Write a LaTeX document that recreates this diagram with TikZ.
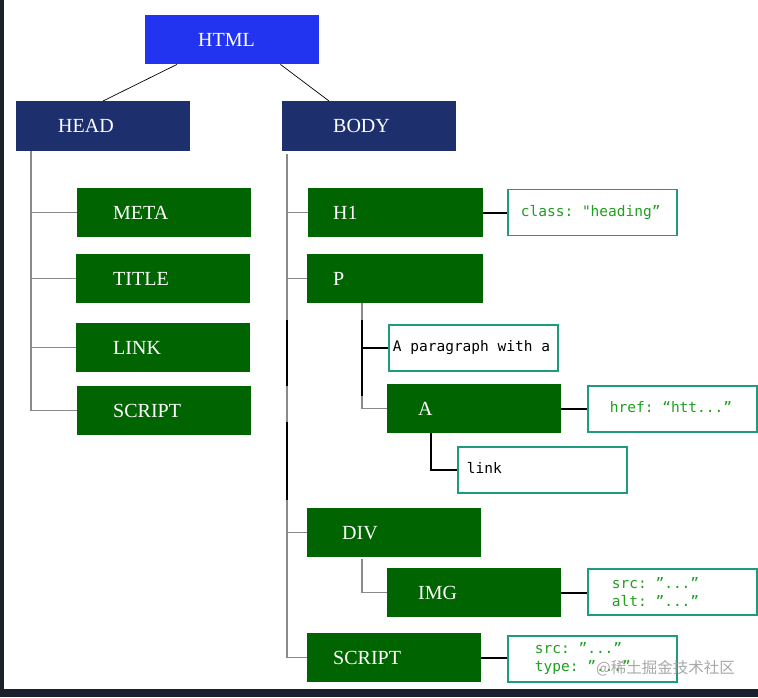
\documentclass[tikz,border=0pt]{standalone}
\usepackage{fontspec}
\setmainfont{Liberation Serif}
\setmonofont{DejaVu Sans Mono}
\newfontfamily\cjkfont{Noto Sans CJK SC}
\usetikzlibrary{calc}
\newcommand\fullsp{\spaceskip=0pt\relax\xspaceskip=0pt\relax}
\definecolor{htmlblue}{HTML}{2234F0}
\definecolor{navyc}{HTML}{1E2F6E}
\definecolor{dgreen}{HTML}{006400}
\definecolor{tealc}{HTML}{1D9B7C}
\definecolor{attrgreen}{HTML}{1FA01F}
\definecolor{lgray}{HTML}{8A8A8A}
\definecolor{framec}{HTML}{1C202C}
\tikzset{
  tagbox/.style={anchor=north west, inner xsep=0pt, inner ysep=0pt, align=left,
    font=\fontsize{20}{20}\selectfont, text=white, minimum height=49pt,
    text height=13pt, text depth=0pt},
  gbox/.style={tagbox, fill=dgreen},
  attrbox/.style={anchor=north west, inner xsep=0pt, inner ysep=0pt, align=left,
    font=\ttfamily\fontsize{14.5}{18}\selectfont, text=attrgreen, draw=tealc,
    line width=1.8pt, fill=white, minimum height=46pt, text width=169pt},
  onel/.style={text height=7.9pt, text depth=0pt},
  gline/.style={draw=lgray, line width=1.4pt},
  bline/.style={draw=black, line width=1.8pt},
  tline/.style={draw=black, line width=0.7pt},
}
\begin{document}
\begin{tikzpicture}[x=1pt,y=-1pt]
\useasboundingbox (0,0) rectangle (758,697);
\fill[white] (0,0) rectangle (758,697);
\fill[framec] (0,0) rectangle (4,697);
\fill[framec] (0,689) rectangle (758,697);

% top levels
\node[tagbox, fill=htmlblue, text width=174pt] (html) at (145,15) {\hspace*{53pt}HTML};
\node[tagbox, fill=navyc, text width=174pt, minimum height=50pt] (head) at (16,101) {\hspace*{42pt}HEAD};
\node[tagbox, fill=navyc, text width=174pt, minimum height=50pt] (body) at (282,101) {\hspace*{51pt}BODY};
\draw[tline] ([xshift=32pt]html.south west) -- ([xshift=87pt]head.north west);
\draw[tline] ([xshift=-39pt]html.south east) -- ([xshift=47pt]body.north west);

% head children
\node[gbox, text width=174pt] (meta) at (77,188) {\hspace*{36pt}META};
\node[gbox, text width=174pt] (title) at (76,254) {\hspace*{37pt}TITLE};
\node[gbox, text width=174pt] (hlink) at (76,323) {\hspace*{37pt}LINK};
\node[gbox, text width=174pt] (hscript) at (77,386) {\hspace*{36pt}SCRIPT};
\coordinate (hv) at ([xshift=15pt]head.south west);
\draw[gline] (hv) |- (hscript.west);
\draw[gline] (meta.west) -- (meta.west -| hv);
\draw[gline] (title.west) -- (title.west -| hv);
\draw[gline] (hlink.west) -- (hlink.west -| hv);

% body children
\node[gbox, text width=175pt] (h1) at (308,188) {\hspace*{25pt}H1};
\node[gbox, text width=176pt] (p) at (307,254) {\hspace*{26pt}P};
\node[gbox, text width=174pt] (a) at (387,384) {\hspace*{31pt}A};
\node[gbox, text width=174pt] (div) at (307,508) {\hspace*{35pt}DIV};
\node[gbox, text width=174pt] (img) at (387,568) {\hspace*{31pt}IMG};
\node[gbox, text width=174pt] (bscript) at (307,633) {\hspace*{26pt}SCRIPT};

\coordinate (bv) at ([xshift=5pt,yshift=-3pt]body.south west);
\draw[gline] (bv) |- (bscript.west);
\draw[gline] (h1.west) -- (h1.west -| bv);
\draw[gline] (p.west) -- (p.west -| bv);
\draw[gline] (div.west) -- (div.west -| bv);
\draw[draw=black, line width=1.4pt] (bv |- 0,320) -- (bv |- 0,386);
\draw[draw=black, line width=1.4pt] (bv |- 0,422) -- (bv |- 0,500);

% attribute / text boxes
\node[attrbox, onel] (cls) at (507,188.5) {\fullsp\hspace*{13pt}class: "heading”};
\node[attrbox, onel, text=black] (para) at (388,324) {\fullsp\hspace*{4pt}A paragraph with a};
\node[attrbox, onel] (href) at (587,385) {\fullsp\hspace*{22pt}href: “htt...”};
\node[attrbox, onel, text=black] (lnk) at (457,446) {\fullsp\hspace*{9pt}link};
\node[attrbox] (imgattr) at (587,568) {\fullsp\hspace*{24pt}src: ”...”\\\hspace*{24pt}alt: ”...”};
\node[attrbox] (sattr) at (507,635) {\fullsp\hspace*{27pt}src: ”...”\\\hspace*{27pt}type: ”...”};

% P subtree
\coordinate (pv) at ([xshift=55pt]p.south west);
\draw[gline] (pv) |- (a.west);
\draw[draw=black, line width=1.4pt] (pv |- 0,320) -- (pv |- 0,396);
\draw[bline] (para.west) -- (para.west -| pv);
\coordinate (av) at ([xshift=44pt]a.south west);
\draw[bline] (av) |- (lnk.west);

% DIV subtree
\coordinate (dv) at ([xshift=55pt,yshift=-2pt]div.south west);
\draw[gline] (dv) |- (img.west);

% attribute connectors
\draw[bline] (h1.east) -- (h1.east -| cls.west);
\draw[bline] (a.east) -- (a.east -| href.west);
\draw[bline] (img.east) -- (img.east -| imgattr.west);
\draw[bline] (bscript.east) -- (bscript.east -| sattr.west);

% watermark
\node[anchor=west, inner sep=0pt, text=black!40, opacity=0.85, font=\cjkfont\fontsize{15.5}{16}\selectfont] (wm) at (596,668) {@稀土掘金技术社区};
\end{tikzpicture}
\end{document}
